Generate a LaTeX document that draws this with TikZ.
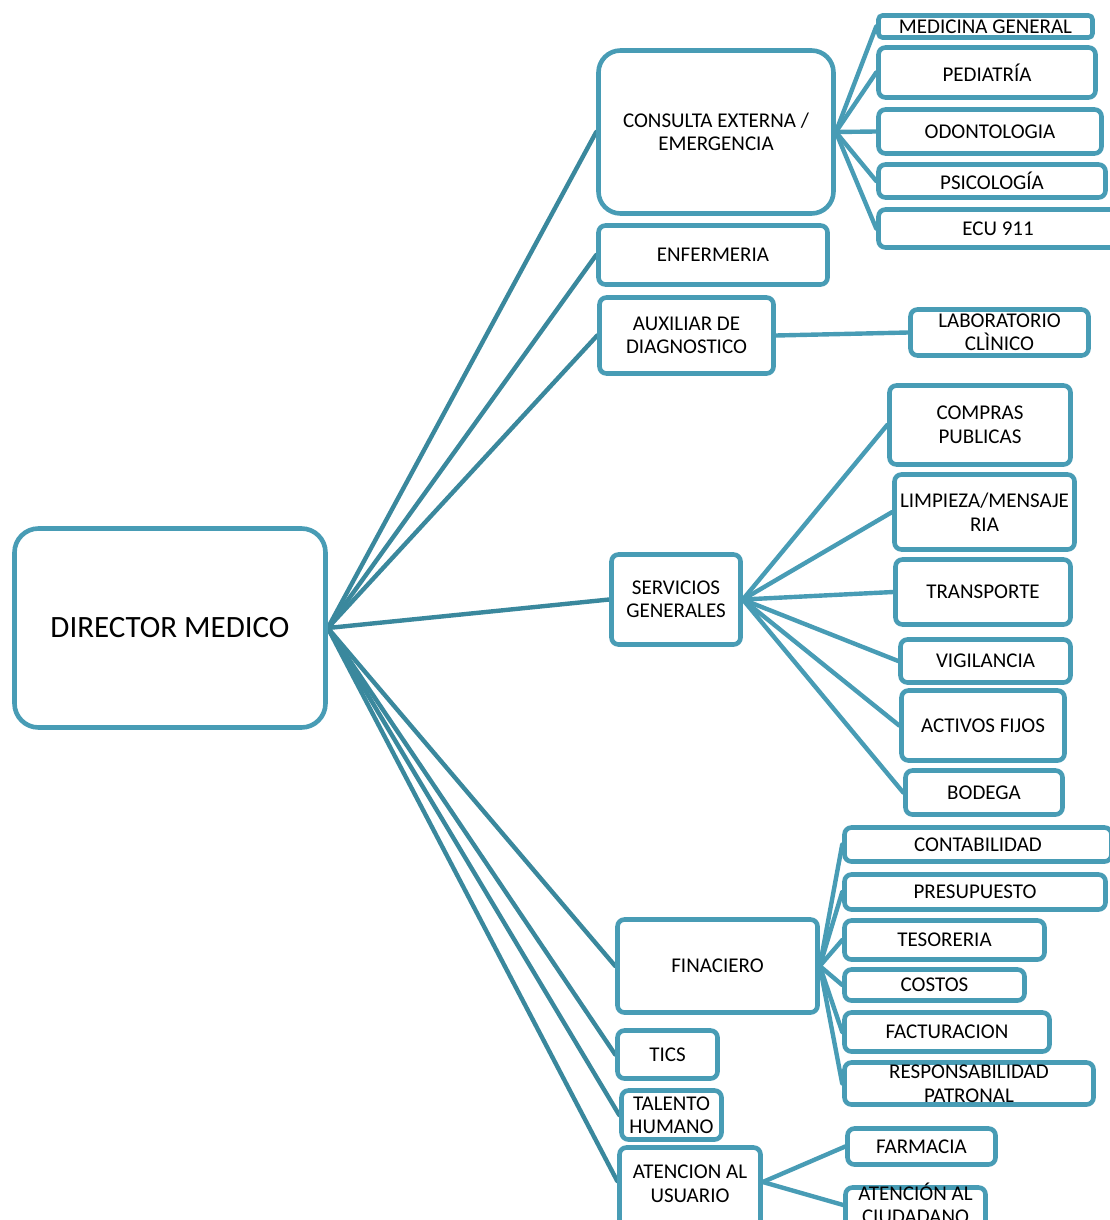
\documentclass[tikz,border=0pt]{standalone}
\usepackage{fontspec}
\setmainfont{Carlito}
\usetikzlibrary{backgrounds}
\definecolor{bx}{RGB}{72,156,181}
\definecolor{ln}{RGB}{58,136,157}
\begin{document}
\begin{tikzpicture}[x=1pt,y=-1pt,
  box/.style={draw=bx, line width=4.6pt, fill=white, rounded corners=7pt, inner sep=0pt, align=center, font=\fontsize{21}{23.5}\selectfont},
  bigbox/.style={box, rounded corners=22pt},
  lbl/.style={inner sep=0pt, align=center, font=\fontsize{21}{23.5}\selectfont},
  conn/.style={draw=ln, line width=4.4pt, line cap=round},
  sub/.style={draw=bx, line width=4.4pt, line cap=round}]
\useasboundingbox (0,0) rectangle (1110,1220);
% main
\node[bigbox, rounded corners=24pt, minimum width=311pt, minimum height=199pt, font=\fontsize{31}{36}\selectfont] (dir) at (170,628) {DIRECTOR MEDICO};
% level 1
\node[bigbox, minimum width=235pt, minimum height=163pt] (cons) at (716,132) {CONSULTA EXTERNA /\\EMERGENCIA};
\node[box, minimum width=229pt, minimum height=59pt] (enf) at (713,255) {ENFERMERIA};
\node[box, minimum width=174pt, minimum height=76pt] (aux) at (686.5,335.5) {AUXILIAR DE\\DIAGNOSTICO};
\node[box, minimum width=129pt, minimum height=90pt] (serv) at (676,599.5) {SERVICIOS\\GENERALES};
\node[box, minimum width=200pt, minimum height=93pt] (fin) at (717.5,966) {FINACIERO};
\node[box, minimum width=100pt, minimum height=48pt] (tics) at (667.5,1054.5) {TICS};
\node[box, minimum width=100pt, minimum height=49pt] (tal) at (671.5,1115) {TALENTO\\HUMANO};
\node[box, minimum width=141pt, minimum height=85pt] (atu) at (690,1190) {};
\node[lbl] (atut) at (690,1183.5) {ATENCION AL\\USUARIO};
% consulta children
\node[box, rounded corners=4pt, minimum width=214pt, minimum height=22pt] (med) at (985.5,26.5) {MEDICINA GENERAL};
\node[box, minimum width=217pt, minimum height=50pt] (ped) at (987,72.5) {PEDIATRÍA};
\node[box, minimum width=223pt, minimum height=44pt] (odo) at (990,131.5) {ODONTOLOGIA};
\node[box, minimum width=227pt, minimum height=33pt] (psi) at (992,181) {PSICOLOGÍA};
\node[box, minimum width=239pt, minimum height=38pt] (ecu) at (998,228.5) {ECU 911};
% auxiliar child
\node[box, minimum width=178pt, minimum height=46pt] (lab) at (999.5,332.5) {LABORATORIO\\CLÌNICO};
% servicios children
\node[box, minimum width=181pt, minimum height=79pt] (comp) at (980,425) {COMPRAS\\PUBLICAS};
\node[box, minimum width=180pt, minimum height=75pt] (limp) at (984.5,512) {LIMPIEZA/MENSAJE\\RIA};
\node[box, minimum width=175pt, minimum height=65pt] (trans) at (983,592) {TRANSPORTE};
\node[box, minimum width=170pt, minimum height=43pt] (vig) at (985.5,661) {VIGILANCIA};
\node[box, minimum width=163pt, minimum height=70pt] (act) at (983,725.5) {ACTIVOS FIJOS};
\node[box, minimum width=157pt, minimum height=44pt] (bod) at (984,792.5) {BODEGA};
% financiero children
\node[box, minimum width=267pt, minimum height=34pt] (cont) at (978,844.5) {CONTABILIDAD};
\node[box, minimum width=261pt, minimum height=35pt] (pres) at (975,892) {PRESUPUESTO};
\node[box, minimum width=200pt, minimum height=39pt] (tes) at (944.5,940) {TESORERIA};
\node[box, minimum width=180pt, minimum height=31pt] (cos) at (934.5,985) {COSTOS};
\node[box, minimum width=205pt, minimum height=39pt] (fac) at (947,1032) {FACTURACION};
\node[box, minimum width=249pt, minimum height=42pt] (resp) at (969,1083.5) {RESPONSABILIDAD\\PATRONAL};
% atencion children
\node[box, minimum width=148pt, minimum height=36pt] (far) at (921.5,1146.5) {FARMACIA};
\node[box, minimum width=140pt, minimum height=50pt] (atc) at (915.5,1212.5) {};
\node[lbl] (atct) at (915.5,1203.5) {ATENCIÓN AL\\CIUDADANO};
% connectors
\begin{scope}[on background layer]
\foreach \t in {cons,enf,aux,serv,fin,tics,tal}{\draw[conn] (dir.east) -- (\t.west);}
\draw[conn] (dir.east) -- ([yshift=9pt]atu.west);
\foreach \t in {med,ped,odo,psi,ecu}{\draw[sub] (cons.east) -- (\t.west);}
\draw[sub] (aux.east) -- (lab.west);
\foreach \t in {comp,limp,trans,vig,act,bod}{\draw[sub] (serv.east) -- (\t.west);}
\foreach \t in {cont,pres,tes,cos,fac,resp}{\draw[sub] (fin.east) -- (\t.west);}
\draw[sub] ([yshift=8pt]atu.east) -- (far.west);
\draw[sub] ([yshift=8pt]atu.east) -- ([yshift=7.5pt]atc.west);
\end{scope}
\end{tikzpicture}
\end{document}
